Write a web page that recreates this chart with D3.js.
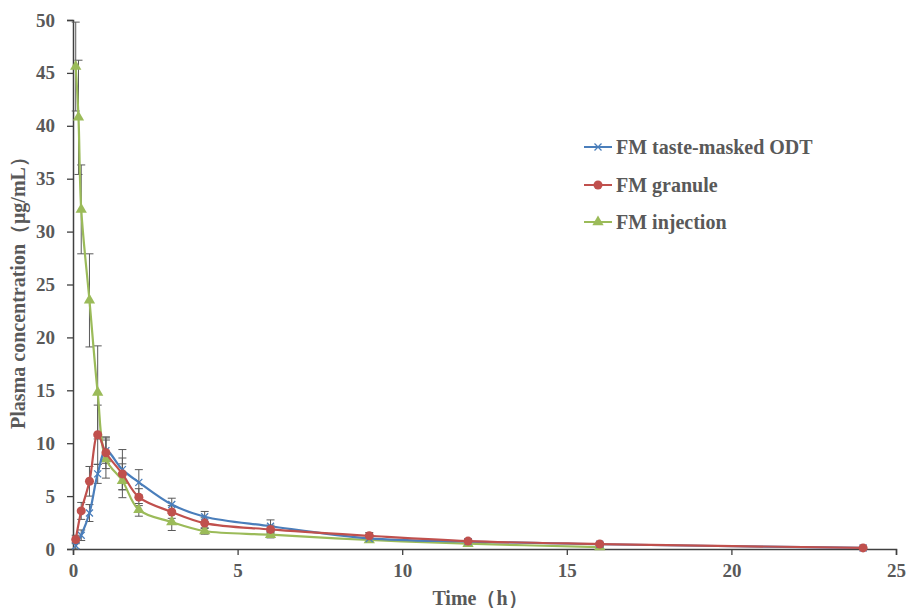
<!DOCTYPE html>
<html>
<head>
<meta charset="utf-8">
<script src="https://cdn.jsdelivr.net/npm/d3@7/dist/d3.min.js"></script>
<style>
  body { margin: 0; background: #fff; }
  text { font-family: "Liberation Serif", "Times New Roman", serif; font-weight: bold; fill: #595959; }
</style>
</head>
<body>
<svg id="chart" width="907" height="608"></svg>
<script>
// time points (h)
var oralTimes = [0.083, 0.25, 0.5, 0.75, 1, 1.5, 2, 3, 4, 6, 9, 12, 16, 24];
var injTimes = [0.083, 0.167, 0.25, 0.5, 0.75, 1, 1.5, 2, 3, 4, 6, 9, 12, 16];

// mean concentrations (ug/mL)
var odtMean = [0.3, 1.3, 3.4, 7.1, 9.3, 7.5, 6.3, 4.2, 3.05, 2.15, 1.0, 0.7, 0.45, 0.1];
var granMean = [0.9, 3.6, 6.4, 10.8, 9.1, 7.1, 4.9, 3.5, 2.45, 1.85, 1.25, 0.75, 0.47, 0.1];
var injMean = [45.6, 40.8, 32.1, 23.5, 14.8, 8.5, 6.45, 3.7, 2.55, 1.7, 1.35, 0.85, 0.5, 0.18];

// standard deviations
var odtSD = [0.3, 0.5, 0.8, 0.9, 1.2, 1.9, 1.2, 0.6, 0.5, 0.6, 0.3, 0.2, 0.1, 0.05];
var granSD = [0.4, 0.8, 1.4, 2.8, 1.5, 1.5, 0.8, 0.6, 0.5, 0.4, 0.3, 0.2, 0.15, 0.05];
var injSD = [4.2, 5.4, 4.2, 4.4, 4.4, 1.8, 1.6, 0.6, 0.8, 0.3, 0.3, 0.2, 0.1, 0.05];

var xTicks = [0, 5, 10, 15, 20, 25];
var yTicks = [0, 5, 10, 15, 20, 25, 30, 35, 40, 45, 50];

var seriesNames = ["FM taste-masked ODT", "FM granule", "FM injection"];
var seriesColors = ["#4a7ebb", "#c0504d", "#9bbb59"];

function zip(times, means, sds) {
    var out = [];
    for (var i = 0; i < times.length; i++) {
        out.push({ t: times[i], v: means[i], sd: sds[i] });
    }
    return out;
}

var series = [
    { name: seriesNames[0], color: seriesColors[0], marker: "cross", data: zip(oralTimes, odtMean, odtSD) },
    { name: seriesNames[1], color: seriesColors[1], marker: "circle", data: zip(oralTimes, granMean, granSD) },
    { name: seriesNames[2], color: seriesColors[2], marker: "triangle", data: zip(injTimes, injMean, injSD) }
];

var svg = d3.select("#chart");
var plotLeft = 73, plotRight = 896, plotTop = 20, plotBottom = 549;

var x = d3.scaleLinear().domain([0, 25]).range([plotLeft, plotRight]);
var y = d3.scaleLinear().domain([0, 50]).range([plotBottom, plotTop]);

// axes
var xAxis = svg.append("g")
    .attr("transform", "translate(0," + plotBottom + ")")
    .call(d3.axisBottom(x).tickValues(xTicks).tickSize(6).tickPadding(9));
var yAxis = svg.append("g")
    .attr("transform", "translate(" + plotLeft + ",0)")
    .call(d3.axisLeft(y).tickValues(yTicks).tickSize(6).tickPadding(12));

[xAxis, yAxis].forEach(function (ax) {
    ax.select(".domain").attr("stroke", "#404040").attr("stroke-width", 1.5);
    ax.selectAll(".tick line").attr("stroke", "#404040").attr("stroke-width", 1.3);
    ax.selectAll(".tick text").style("font-size", "19px").attr("fill", "#595959")
        .style("font-family", "'Liberation Serif', serif").style("font-weight", "bold");
});

// error bars
series.forEach(function (s) {
    var g = svg.append("g");
    s.data.forEach(function (d) {
        var cx = x(d.t);
        var y1 = y(d.v - d.sd), y2 = y(d.v + d.sd);
        g.append("line").attr("x1", cx).attr("x2", cx).attr("y1", y1).attr("y2", y2)
            .attr("stroke", "#595959").attr("stroke-width", 1);
        g.append("line").attr("x1", cx - 4).attr("x2", cx + 4).attr("y1", y1).attr("y2", y1)
            .attr("stroke", "#595959").attr("stroke-width", 1);
        g.append("line").attr("x1", cx - 4).attr("x2", cx + 4).attr("y1", y2).attr("y2", y2)
            .attr("stroke", "#595959").attr("stroke-width", 1);
    });
});

var line = d3.line()
    .x(function (d) { return x(d.t); })
    .y(function (d) { return y(d.v); })
    .curve(d3.curveCatmullRom.alpha(0.5));

function drawMarker(g, type, cx, cy, color) {
    if (type === "circle") {
        g.append("circle").attr("cx", cx).attr("cy", cy).attr("r", 4.5).attr("fill", color);
    } else if (type === "triangle") {
        g.append("path")
            .attr("d", d3.symbol().type(d3.symbolTriangle).size(55)())
            .attr("transform", "translate(" + cx + "," + cy + ")")
            .attr("fill", color);
    } else {
        g.append("path")
            .attr("d", "M-3.5,-3.5L3.5,3.5M-3.5,3.5L3.5,-3.5")
            .attr("transform", "translate(" + cx + "," + cy + ")")
            .attr("stroke", color).attr("stroke-width", 1.3).attr("fill", "none");
    }
}

// lines and markers (injection first so oral lines sit on top)
[2, 0, 1].forEach(function (i) {
    var s = series[i];
    svg.append("path").datum(s.data)
        .attr("d", line)
        .attr("fill", "none")
        .attr("stroke", s.color)
        .attr("stroke-width", 2.2);
    var mg = svg.append("g");
    s.data.forEach(function (d) {
        drawMarker(mg, s.marker, x(d.t), y(d.v), s.color);
    });
});

// legend
var legendY = [147, 185, 222];
series.forEach(function (s, i) {
    var ly = legendY[i];
    svg.append("line").attr("x1", 584).attr("x2", 612).attr("y1", ly).attr("y2", ly)
        .attr("stroke", s.color).attr("stroke-width", 2);
    drawMarker(svg, s.marker, 598, ly, s.color);
    svg.append("text").attr("x", 616).attr("y", ly + 7)
        .style("font-size", "20px").text(s.name);
});

// axis titles
svg.append("text")
    .attr("x", 480).attr("y", 605)
    .attr("text-anchor", "middle")
    .style("font-size", "20px")
    .text("Time（h）");

svg.append("text")
    .attr("transform", "translate(25,288) rotate(-90)")
    .attr("text-anchor", "middle")
    .style("font-size", "20px")
    .text("Plasma concentration（μg/mL）");
</script>
</body>
</html>
